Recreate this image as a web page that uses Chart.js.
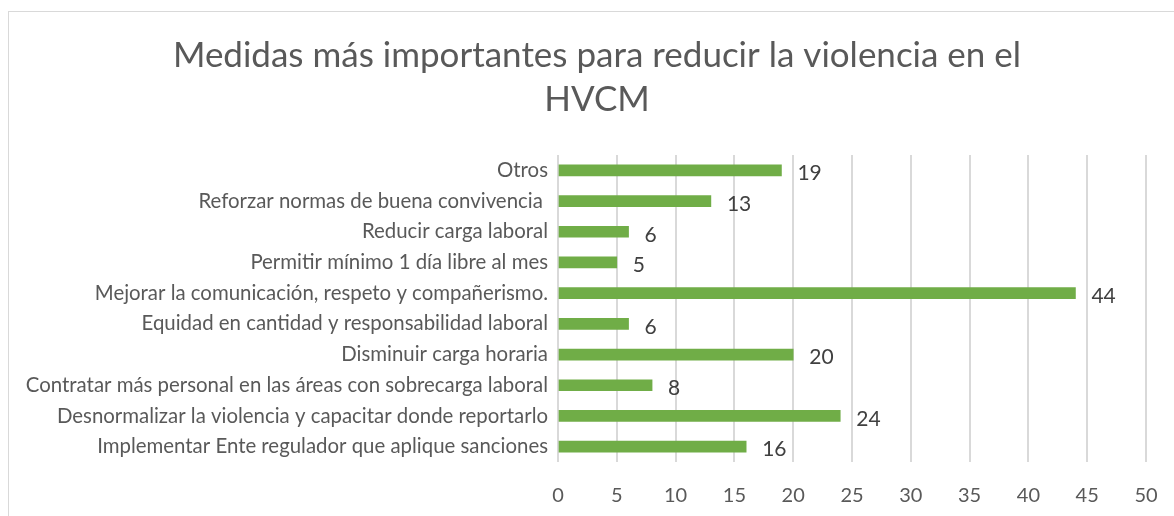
<!DOCTYPE html>
<html>
<head>
<meta charset="utf-8">
<script src="https://cdn.jsdelivr.net/npm/chart.js@4/dist/chart.umd.min.js"></script>
<style>
  html, body { margin: 0; padding: 0; background: #fff; }
  #wrap { position: relative; width: 1174px; height: 516px; overflow: hidden; }
  #frame { position: absolute; left: 8px; top: 11px; width: 1200px; height: 600px; border: 1px solid #d9d9d9; box-sizing: border-box; }
  canvas { position: absolute; left: 0; top: 0; }
</style>
</head>
<body>
<div id="wrap">
  <div id="frame"></div>
  <canvas id="c" width="1174" height="516"></canvas>
</div>
<script>
const titleLines = ['Medidas más importantes para reducir la violencia en el', 'HVCM'];
const categories = [
  'Otros',
  'Reforzar normas de buena convivencia ',
  'Reducir carga laboral',
  'Permitir mínimo 1 día libre al mes',
  'Mejorar la comunicación, respeto y compañerismo.',
  'Equidad en cantidad y responsabilidad laboral',
  'Disminuir carga horaria',
  'Contratar más personal en las áreas con sobrecarga laboral',
  'Desnormalizar la violencia y capacitar donde reportarlo',
  'Implementar Ente regulador que aplique sanciones'
];
const values = [19, 13, 6, 5, 44, 6, 20, 8, 24, 16];
const xMin = 0, xMax = 50, xStep = 5;

const FONT = 'Lato, "Open Sans", sans-serif';

const titlePlugin = {
  id: 'customTitle',
  afterDraw(chart) {
    const ctx = chart.ctx;
    ctx.save();
    ctx.font = '35px ' + FONT;
    ctx.fillStyle = '#595959';
    ctx.textAlign = 'center';
    ctx.textBaseline = 'middle';
    titleLines.forEach((t, i) => ctx.fillText(t, 597, 56 + i * 44));
    ctx.restore();
  }
};

const dataLabels = {
  id: 'dataLabels',
  afterDatasetsDraw(chart) {
    const ctx = chart.ctx;
    const meta = chart.getDatasetMeta(0);
    ctx.save();
    ctx.font = '21px ' + FONT;
    ctx.fillStyle = '#404040';
    ctx.textAlign = 'left';
    ctx.textBaseline = 'middle';
    meta.data.forEach((bar, i) => {
      ctx.fillText(String(values[i]), bar.x + 16, bar.y + 3);
    });
    ctx.restore();
  }
};

new Chart(document.getElementById('c'), {
  type: 'bar',
  data: {
    labels: categories,
    datasets: [{
      data: values,
      backgroundColor: '#70AD47',
      borderWidth: 0,
      barThickness: 11
    }]
  },
  options: {
    indexAxis: 'y',
    responsive: false,
    animation: false,
    devicePixelRatio: 1,
    layout: { padding: { left: 8, right: 28, top: 155, bottom: 0 } },
    plugins: {
      legend: { display: false },
      tooltip: { enabled: false },
      title: { display: false }
    },
    scales: {
      x: {
        min: xMin, max: xMax,
        ticks: { stepSize: xStep, color: '#595959', font: { family: FONT, size: 20 }, padding: 22, maxRotation: 0 },
        grid: { color: '#d9d9d9', lineWidth: 2, drawTicks: false },
        border: { display: false },
        afterFit(s) { s.height = 54; s.paddingLeft = 0; s.paddingRight = 0; }
      },
      y: {
        ticks: { color: '#595959', font: { family: FONT, size: 20.4 }, padding: 10, autoSkip: false },
        grid: { display: false, drawTicks: false },
        border: { display: false },
        afterFit(s) { s.width = 550; s.paddingTop = 0; s.paddingBottom = 0; }
      }
    }
  },
  plugins: [dataLabels, titlePlugin]
});
</script>
</body>
</html>
